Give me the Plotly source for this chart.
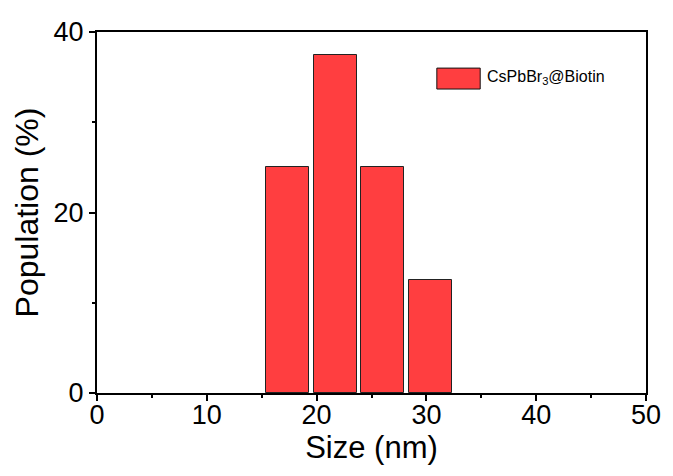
import plotly.graph_objects as go

# Size histogram of CsPbBr3@Biotin nanocrystals
bin_centers = [17.38, 21.70, 26.03, 30.35]   # nm
population = [25.0, 37.5, 25.0, 12.5]        # %
bar_width = 3.94

x_ticks = [0, 10, 20, 30, 40, 50]
y_ticks = [0, 20, 40]

series_name = "CsPbBr<sub>3</sub>@Biotin"
bar_color = "#FF3E40"
font_family = "Liberation Sans, Arial, sans-serif"

fig = go.Figure()
fig.add_trace(go.Bar(
    x=bin_centers,
    y=population,
    width=bar_width,
    marker=dict(color=bar_color, line=dict(color="#222222", width=1)),
    name=series_name,
    showlegend=False,
))

# Legend swatch and label
fig.add_shape(type="rect", xref="paper", yref="paper",
              x0=0.619, x1=0.698, y0=0.842, y1=0.900,
              fillcolor=bar_color, line=dict(color="#111111", width=1))
fig.add_annotation(xref="paper", yref="paper", x=0.707, y=0.873,
                   xanchor="left", yanchor="middle", showarrow=False,
                   text=series_name,
                   font=dict(family=font_family, size=16, color="black"))

axis_common = dict(
    showline=True, linecolor="black", linewidth=2, mirror=True,
    ticks="outside", tickcolor="black", tickwidth=1.5, ticklen=6,
    showgrid=False, zeroline=False,
    tickfont=dict(family=font_family, size=27, color="black"),
)

fig.update_xaxes(
    range=[0, 50], tickvals=x_ticks, ticktext=[str(v) for v in x_ticks],
    ticklabelstandoff=-9,
    minor=dict(ticks="outside", dtick=5, tick0=0, ticklen=3, tickwidth=1.5, tickcolor="black"),
    title=dict(text="Size (nm)", standoff=6,
               font=dict(family=font_family, size=31, color="black")),
    **axis_common,
)
fig.update_yaxes(
    range=[0, 40], tickvals=y_ticks, ticktext=[str(v) for v in y_ticks],
    minor=dict(ticks="outside", dtick=10, tick0=0, ticklen=3, tickwidth=1.5, tickcolor="black"),
    title=dict(text="Population (%)", standoff=5,
               font=dict(family=font_family, size=32, color="black")),
    **axis_common,
)

fig.update_layout(
    width=673, height=476,
    margin=dict(l=97, r=21, t=32, b=83),
    plot_bgcolor="white", paper_bgcolor="white",
    bargap=0,
)

fig.write_html("out.html")
